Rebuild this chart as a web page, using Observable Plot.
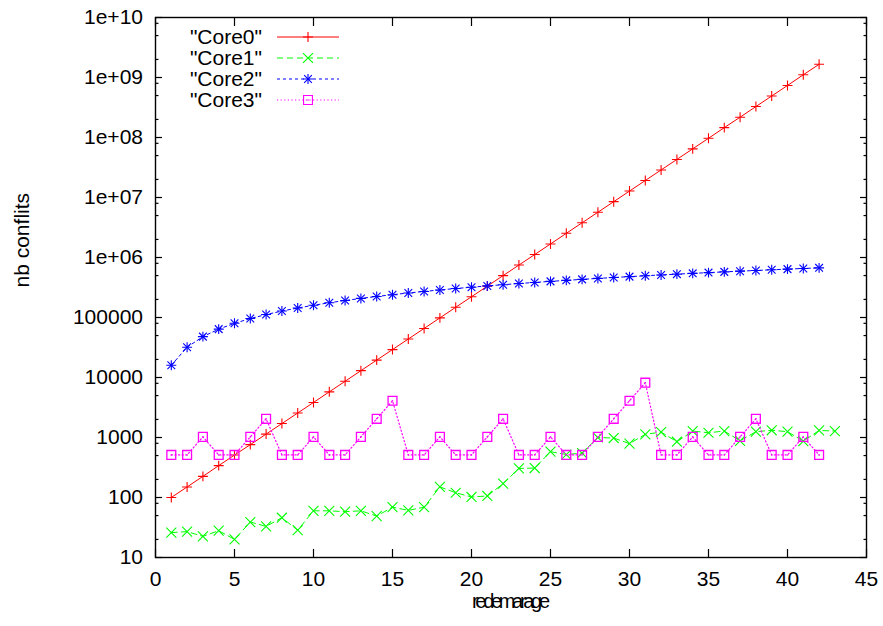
<!DOCTYPE html>
<html><head><meta charset="utf-8">
<script src="https://cdn.jsdelivr.net/npm/d3@7"></script>
<script src="https://cdn.jsdelivr.net/npm/@observablehq/plot@0.6"></script>
<style>
html,body{margin:0;padding:0;background:#fff}
svg{font-family:"Liberation Sans",Arial,Helvetica,sans-serif}
</style>
</head><body><div id="chart"></div>
<script>
// ---- data ----
const seriesNames = ['"Core0"', '"Core1"', '"Core2"', '"Core3"'];
const core0 = [100,150,225,340,510,760,1140,1710,2560,3840,5770,8650,13000,19500,29200,43800,65700,98500,148000,222000,333000,499000,748000,1120000,1680000,2530000,3790000,5680000,8520000,1.28e7,1.92e7,2.88e7,4.31e7,6.47e7,9.71e7,1.46e8,2.18e8,3.28e8,4.91e8,7.37e8,1.11e9,1.66e9];
const core1 = [26,27,22.5,28,20,39,33,46,28.5,60,60,58,60,49,69,61,69,150,120,102,106,170,305,310,580,520,550,1000,980,790,1130,1230,850,1280,1200,1280,880,1250,1320,1250,870,1310,1280];
const core2 = [16000,32000,48000,64000,80000,96000,112000,128000,144000,160000,176000,192000,208000,224000,240000,256000,272000,288000,304000,320000,336000,352000,368000,384000,400000,416000,432000,448000,464000,480000,496000,512000,528000,544000,560000,576000,592000,608000,624000,640000,656000,672000];
const core3 = [512,512,1024,512,512,1024,2048,512,512,1024,512,512,1024,2048,4096,512,512,1024,512,512,1024,2048,512,512,1024,512,512,1024,2048,4096,8192,512,512,1024,512,512,1024,2048,512,512,1024,512];
const xTicks = [0,5,10,15,20,25,30,35,40,45];
const yTicks = [10,100,1000,10000,100000,1e6,1e7,1e8,1e9,1e10];
const yTickLabels = ["10","100","1000","10000","100000","1e+06","1e+07","1e+08","1e+09","1e+10"];
const minorMult = [2,5,8];
const xLabel = "redemarage";
const yLabel = "nb conflits";

// ---- styles ----
const colors = ["#ff0000", "#00ff00", "#0000ff", "#ff00ff"];
const dashes = [null, "6,4", "3,3", "1.2,2.4"];
const FS = 21;

const toRows = arr => arr.map((v, i) => ({x: i + 1, v}));
const d0 = toRows(core0), d1 = toRows(core1), d2 = toRows(core2), d3r = toRows(core3);
const yMinor = yTicks.slice(0, -1).flatMap(d => minorMult.map(m => m * d));

const chart = Plot.plot({
  width: 883, height: 626,
  marginLeft: 155, marginRight: 17, marginTop: 17, marginBottom: 69,
  style: {fontSize: FS + "px", fontFamily: '"Liberation Sans",Arial,sans-serif', color: "black", background: "white"},
  x: {domain: [0, 45]},
  y: {type: "log", domain: [10, 1e10]},
  marks: [
    Plot.frame({stroke: "black", strokeWidth: 1.4}),
    // inward ticks
    Plot.axisX({anchor: "bottom", ticks: xTicks, tickSize: 8, dy: -8, text: null, label: null, strokeWidth: 1.2}),
    Plot.axisX({anchor: "top", ticks: xTicks, tickSize: 8, dy: 8, text: null, label: null, strokeWidth: 1.2}),
    Plot.axisY({anchor: "left", ticks: yTicks, tickSize: 7, dx: 7, text: null, label: null, strokeWidth: 1.2}),
    Plot.axisY({anchor: "right", ticks: yTicks, tickSize: 7, dx: -7, text: null, label: null, strokeWidth: 1.2}),
    Plot.axisY({anchor: "left", ticks: yMinor, tickSize: 3.5, dx: 3.5, text: null, label: null, strokeWidth: 1.2}),
    Plot.axisY({anchor: "right", ticks: yMinor, tickSize: 3.5, dx: -3.5, text: null, label: null, strokeWidth: 1.2}),
    // tick labels
    Plot.axisX({anchor: "bottom", ticks: xTicks, tickSize: 0, tickPadding: 14, tickFormat: d => String(d), label: null, fontSize: FS}),
    Plot.axisY({anchor: "left", ticks: yTicks, tickSize: 0, tickPadding: 12.5, tickFormat: d => yTickLabels[yTicks.indexOf(d)], label: null, fontSize: FS}),
    // axis titles
    Plot.text([yLabel], {text: d => d, frameAnchor: "left", dx: -133, rotate: -90, fontSize: FS}),
    Plot.text([xLabel], {text: d => d, frameAnchor: "bottom", dy: 50, fontSize: 20}),
    // series
    Plot.line(d0, {x: "x", y: "v", stroke: colors[0], strokeWidth: 1}),
    Plot.dot(d0, {x: "x", y: "v", symbol: "plus", r: 3.3, stroke: colors[0], strokeWidth: 1.1}),
    Plot.line(d1, {x: "x", y: "v", stroke: colors[1], strokeWidth: 1, strokeDasharray: dashes[1]}),
    Plot.dot(d1, {x: "x", y: "v", symbol: "times", r: 4.6, stroke: colors[1], strokeWidth: 1.1}),
    Plot.line(d2, {x: "x", y: "v", stroke: colors[2], strokeWidth: 1, strokeDasharray: dashes[2]}),
    Plot.dot(d2, {x: "x", y: "v", symbol: "plus", r: 3.3, stroke: colors[2], strokeWidth: 1.1}),
    Plot.dot(d2, {x: "x", y: "v", symbol: "times", r: 3.6, stroke: colors[2], strokeWidth: 1.1}),
    Plot.line(d3r, {x: "x", y: "v", stroke: colors[3], strokeWidth: 1.2, strokeDasharray: dashes[3]}),
    Plot.dot(d3r, {x: "x", y: "v", symbol: "square", r: 5, fill: "none", stroke: colors[3], strokeWidth: 1.3}),
    Plot.dot(d3r, {x: "x", y: "v", r: 0.8, fill: colors[3], stroke: null})
  ]
});
document.getElementById("chart").appendChild(chart);

// condensed x title like the reference
d3.select(chart).selectAll("text").filter(function() { return this.textContent === xLabel; })
  .attr("textLength", 78).attr("lengthAdjust", "spacing");

// ---- legend (inside the frame, top-left) ----
const svg = d3.select(chart);
const leg = svg.append("g").attr("font-size", FS).attr("fill", "black");
const rowY = i => 37 + 21 * i;
const symR = [3.3, 4.6, 3.3, 5];
seriesNames.forEach((name, i) => {
  const y = rowY(i);
  leg.append("text").attr("x", 262).attr("y", y).attr("dy", "0.35em").attr("text-anchor", "end").text(name);
  leg.append("line").attr("x1", 277).attr("x2", 339).attr("y1", y).attr("y2", y)
    .attr("stroke", colors[i]).attr("stroke-width", i === 3 ? 1.2 : 1)
    .attr("stroke-dasharray", dashes[i]);
  const g = leg.append("g").attr("transform", `translate(308,${y})`)
    .attr("fill", "none").attr("stroke", colors[i]).attr("stroke-width", 1.1);
  const sym = (t, r) => g.append("path").attr("d", d3.symbol(t, Math.PI * r * r)());
  if (i === 0) sym(d3.symbolPlus, symR[0]);
  if (i === 1) sym(d3.symbolTimes, symR[1]);
  if (i === 2) { sym(d3.symbolPlus, 3.3); sym(d3.symbolTimes, 3.6); }
  if (i === 3) { sym(d3.symbolSquare, 5); g.append("circle").attr("r", 0.8).attr("fill", colors[3]).attr("stroke", "none"); }
});
</script>
</body></html>
